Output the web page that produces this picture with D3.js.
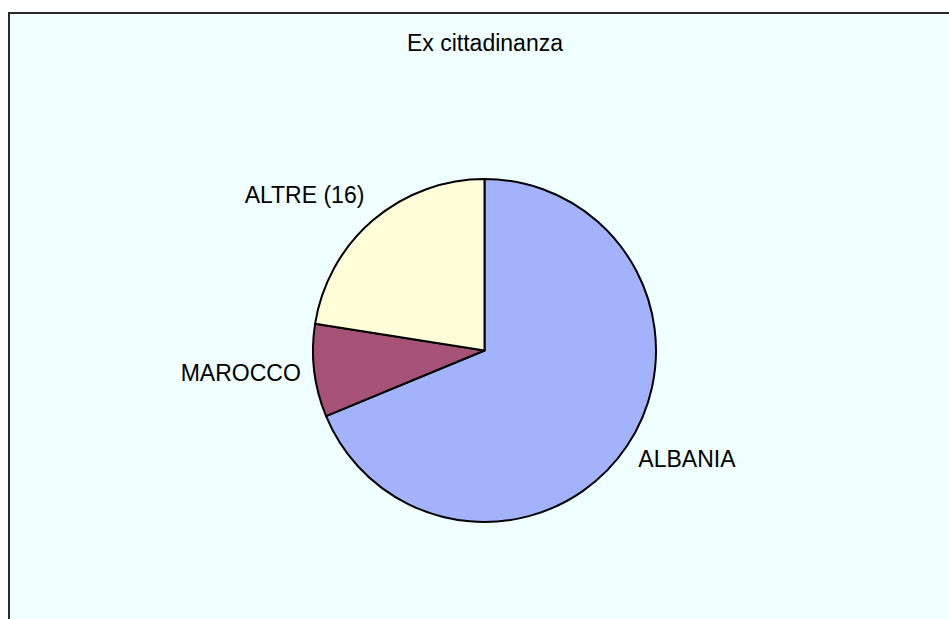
<!DOCTYPE html>
<html>
<head>
<meta charset="utf-8">
<script src="https://cdn.jsdelivr.net/npm/d3@7"></script>
<style>
  html, body { margin: 0; padding: 0; background: #ffffff; }
  svg { display: block; }
  text { font-family: "Liberation Sans", Arial, sans-serif; fill: #000; }
</style>
</head>
<body>
<svg id="chart" width="949" height="619"></svg>
<script>
const title = "Ex cittadinanza";
const categories = ["ALBANIA", "MAROCCO", "ALTRE (16)"];
const values = [55, 7, 18];
const colors = ["#A3B3FB", "#A65276", "#FFFDD8"];

const W = 949, H = 619;
const svg = d3.select("#chart");

// chart area background + border
svg.append("rect")
  .attr("x", 9).attr("y", 13)
  .attr("width", W + 20).attr("height", H + 20)
  .attr("fill", "#F0FFFF")
  .attr("stroke", "#2a2a2a")
  .attr("stroke-width", 2);

svg.append("text")
  .attr("x", 485).attr("y", 51)
  .attr("text-anchor", "middle")
  .attr("font-size", 23)
  .text(title);

const cx = 484.5, cy = 350.5, R = 171.5;
const data = categories.map((c, i) => ({ name: c, value: values[i], color: colors[i] }));

const pie = d3.pie().value(d => d.value).sort(null);
const arc = d3.arc().innerRadius(0).outerRadius(R);
const arcs = pie(data);

const g = svg.append("g").attr("transform", `translate(${cx},${cy})`);

g.selectAll("path.slice")
  .data(arcs)
  .join("path")
  .attr("class", "slice")
  .attr("d", arc)
  .attr("fill", d => d.data.color)
  .attr("stroke", "#000")
  .attr("stroke-width", 2)
  .attr("stroke-linejoin", "round");

const LR = 185;
g.selectAll("text.label")
  .data(arcs)
  .join("text")
  .attr("class", "label")
  .attr("font-size", 23)
  .each(function(d) {
    const a = (d.startAngle + d.endAngle) / 2;
    const s = Math.sin(a), c = Math.cos(a);
    const x = LR * s, y = -LR * c;
    const t = d3.select(this);
    t.attr("x", x).attr("y", y)
     .attr("text-anchor", s >= 0 ? "start" : "end");
    let dy;
    if (c > 0.3) dy = -7;          // upper: text sits above point
    else if (c < -0.3) dy = 14;    // lower: text hangs below point
    else dy = 9;                   // side: vertically centred
    t.attr("dy", dy);
  })
  .text(d => d.data.name);
</script>
</body>
</html>
